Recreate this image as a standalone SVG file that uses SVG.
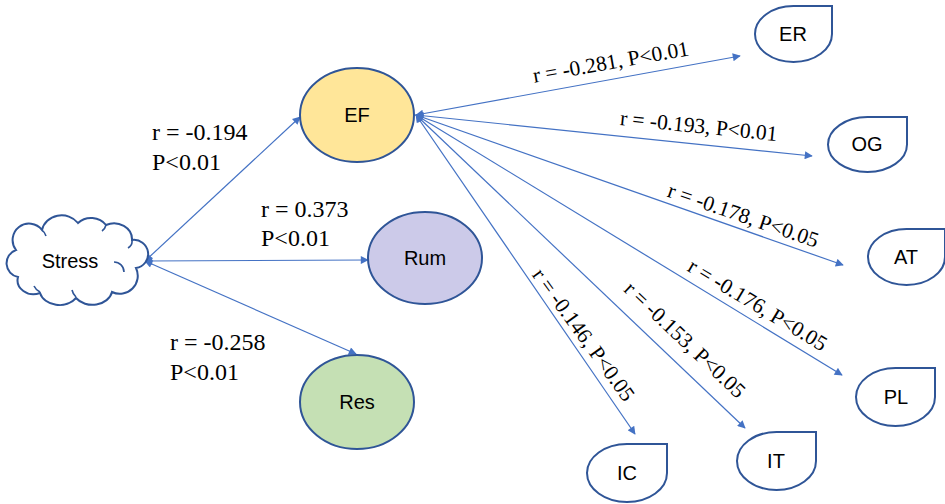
<svg xmlns="http://www.w3.org/2000/svg" width="945" height="504" viewBox="0 0 945 504">
<style>
.bg{fill:#fff}
.node{stroke:#2F5597;stroke-width:2}
.tear{fill:#fff;stroke:#2F5597;stroke-width:2}
.lbl{font-family:"Liberation Sans",Arial,sans-serif;font-size:20px;fill:#000;text-anchor:middle}
.stat{font-family:"Liberation Serif","Times New Roman",serif;font-size:24px;fill:#000}
.rot{font-family:"Liberation Serif","Times New Roman",serif;font-size:21.5px;fill:#000;text-anchor:middle}
.conn{stroke:#4472C4;stroke-width:1.2;fill:none;marker-end:url(#ah);marker-start:url(#ah)}
</style>
<defs>
<marker id="ah" viewBox="0 0 10 10" refX="9" refY="5" markerWidth="10" markerHeight="8" markerUnits="userSpaceOnUse" orient="auto-start-reverse">
<path d="M0,0 L10,5 L0,10 Z" fill="#4472C4"/>
</marker>
</defs>
<rect class="bg" width="945" height="504"/>
<g id="connectors">
<line class="conn" x1="145" y1="261" x2="300" y2="117"/>
<line class="conn" x1="145" y1="261" x2="368" y2="260"/>
<line class="conn" x1="145" y1="261" x2="356" y2="354"/>
<line class="conn" x1="416" y1="115" x2="740" y2="56"/>
<line class="conn" x1="416" y1="115" x2="812" y2="156"/>
<line class="conn" x1="416" y1="115" x2="843" y2="265"/>
<line class="conn" x1="416" y1="115" x2="842" y2="375"/>
<line class="conn" x1="416" y1="115" x2="745" y2="428"/>
<line class="conn" x1="416" y1="115" x2="635" y2="434"/>
</g>
<g id="stress">
<path class="tear" d="M16,250 A16,16 0 0 1 42,230 A20,18 0 0 1 78,223 A18,16 0 0 1 106,225 A18,16 0 0 1 132,240 A14,14 0 0 1 136,268 A18,18 0 0 1 112,292 A20,16 0 0 1 76,298 A20,16 0 0 1 40,293 A16,14 0 0 1 18,277 A14,14 0 0 1 16,250 Z"/>
<path d="M114,262 A10,10 0 0 1 124,272 M40,292 A14,12 0 0 1 34,286 M76,297 A16,14 0 0 1 72,290 M42,230 A12,12 0 0 1 46,236 M106,225 A10,10 0 0 1 102,231 M132,240 A8,8 0 0 1 128,248" fill="none" stroke="#2F5597" stroke-width="1.6"/>
<text class="lbl" x="70" y="268">Stress</text>
</g>
<g id="EF">
<ellipse class="node" cx="357" cy="115" rx="57" ry="47" fill="#FFE699"/>
<text class="lbl" x="357" y="122">EF</text>
</g>
<g id="Rum">
<ellipse class="node" cx="425" cy="258" rx="57" ry="46" fill="#CCCAE9"/>
<text class="lbl" x="425" y="265">Rum</text>
</g>
<g id="Res">
<ellipse class="node" cx="357" cy="402" rx="57" ry="47" fill="#C5E0B4"/>
<text class="lbl" x="357" y="409">Res</text>
</g>
<g id="ER">
<path class="tear" d="M832,6 L793.5,6 A38.5,28 0 0 0 755,34 A38.5,28 0 0 0 793.5,62 A38.5,28 0 0 0 832,34 Z"/>
<text class="lbl" x="793" y="41">ER</text>
</g>
<g id="OG">
<path class="tear" d="M907,117 L867.5,117 A39.5,27.5 0 0 0 828,144.5 A39.5,27.5 0 0 0 867.5,172 A39.5,27.5 0 0 0 907,144.5 Z"/>
<text class="lbl" x="867" y="151">OG</text>
</g>
<g id="AT">
<path class="tear" d="M945,229 L906.5,229 A38.5,28 0 0 0 868,257 A38.5,28 0 0 0 906.5,285 A38.5,28 0 0 0 945,257 Z"/>
<text class="lbl" x="906" y="264">AT</text>
</g>
<g id="PL">
<path class="tear" d="M935,368 L895.5,368 A39.5,29 0 0 0 856,397 A39.5,29 0 0 0 895.5,426 A39.5,29 0 0 0 935,397 Z"/>
<text class="lbl" x="896" y="404">PL</text>
</g>
<g id="IT">
<path class="tear" d="M816,432 L776.5,432 A39.5,29 0 0 0 737,461 A39.5,29 0 0 0 776.5,490 A39.5,29 0 0 0 816,461 Z"/>
<text class="lbl" x="776" y="468">IT</text>
</g>
<g id="IC">
<path class="tear" d="M667,444 L627,444 A40,29 0 0 0 587,473 A40,29 0 0 0 627,502 A40,29 0 0 0 667,473 Z"/>
<text class="lbl" x="627" y="480">IC</text>
</g>
<g id="labels">
<text class="stat" x="152" y="140">r = -0.194</text>
<text class="stat" x="152" y="170">P&lt;0.01</text>
<text class="stat" x="261" y="217">r = 0.373</text>
<text class="stat" x="261" y="246">P&lt;0.01</text>
<text class="stat" x="170" y="350">r = -0.258</text>
<text class="stat" x="170" y="380">P&lt;0.01</text>
<text class="rot" transform="translate(612,69) rotate(-10)">r = -0.281, P&lt;0.01</text>
<text class="rot" transform="translate(698,133) rotate(5.8)">r = -0.193, P&lt;0.01</text>
<text class="rot" transform="translate(741,222) rotate(19)">r = -0.178, P&lt;0.05</text>
<text class="rot" transform="translate(754,311) rotate(31)">r = -0.176, P&lt;0.05</text>
<text class="rot" transform="translate(680,345) rotate(43.5)">r = -0.153, P&lt;0.05</text>
<text class="rot" transform="translate(578,339) rotate(54)">r = -0.146, P&lt;0.05</text>
</g>
</svg>
